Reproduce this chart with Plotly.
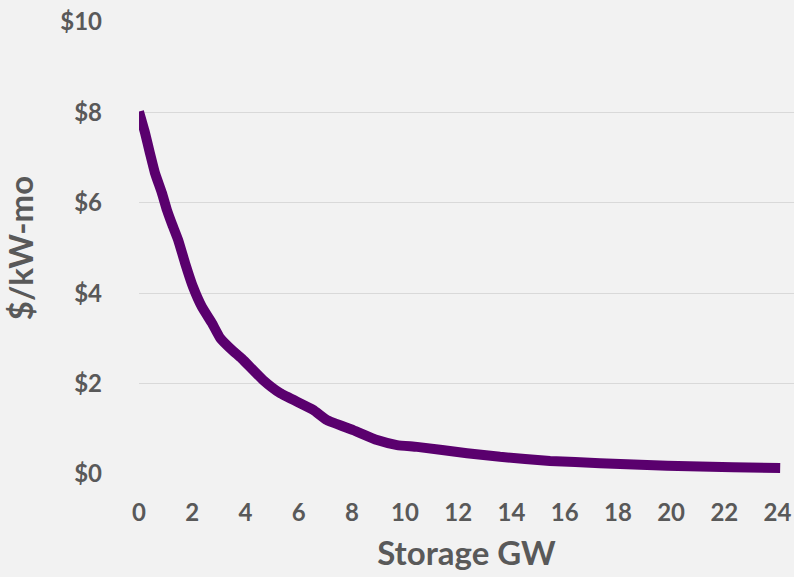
import plotly.graph_objects as go

storage_gw = [0.0, 0.23, 0.41, 0.60, 0.86, 1.05, 1.24, 1.47, 1.73, 2.03, 2.37, 2.74, 3.05,
              3.50, 3.87, 4.66, 5.30, 6.54, 7.07, 8.05, 8.95, 9.70, 10.45, 12.33, 13.57,
              15.45, 17.33, 19.85, 22.33, 24.1]
cost = [8.02, 7.54, 7.10, 6.66, 6.22, 5.84, 5.53, 5.18, 4.67, 4.14, 3.69, 3.34, 3.01,
        2.74, 2.55, 2.08, 1.79, 1.42, 1.19, 0.97, 0.75, 0.64, 0.60, 0.46, 0.38,
        0.29, 0.24, 0.18, 0.15, 0.13]

x_ticks = list(range(0, 25, 2))
y_ticks = [0, 2, 4, 6, 8, 10]
y_tick_labels = ["$" + str(v) for v in y_ticks]

grey = "#595959"
font = "Lato, 'Open Sans', sans-serif"

fig = go.Figure()
fig.add_trace(go.Scatter(x=storage_gw, y=cost, mode="lines",
                         line=dict(color="#5a006e", width=10, shape="spline", smoothing=0.4),
                         showlegend=False, hoverinfo="skip"))

fig.update_layout(
    width=794, height=577,
    margin=dict(l=139, r=0, t=22, b=103),
    paper_bgcolor="#f2f2f2", plot_bgcolor="#f2f2f2",
    font=dict(family=font, color=grey),
    xaxis=dict(range=[0, 24.62], tickvals=x_ticks, showgrid=False, zeroline=False,
               showline=False, ticklabelstandoff=22,
               tickfont=dict(size=24, family=font, color=grey, weight="bold"),
               title=dict(text="Storage GW", standoff=16,
                          font=dict(size=33, family=font, color=grey, weight="bold"))),
    yaxis=dict(range=[0, 10], tickvals=y_ticks, ticktext=y_tick_labels,
               showgrid=True, gridcolor="#d9d9d9", gridwidth=1.3, zeroline=False,
               showline=False, ticklabelstandoff=36,
               tickfont=dict(size=24, family=font, color=grey, weight="bold"),
               title=dict(text="$/kW-mo", standoff=16,
                          font=dict(size=33, family=font, color=grey, weight="bold"))),
)

fig.write_html("out.html", config={"displayModeBar": False},
               post_script="document.body.style.margin='0';")
